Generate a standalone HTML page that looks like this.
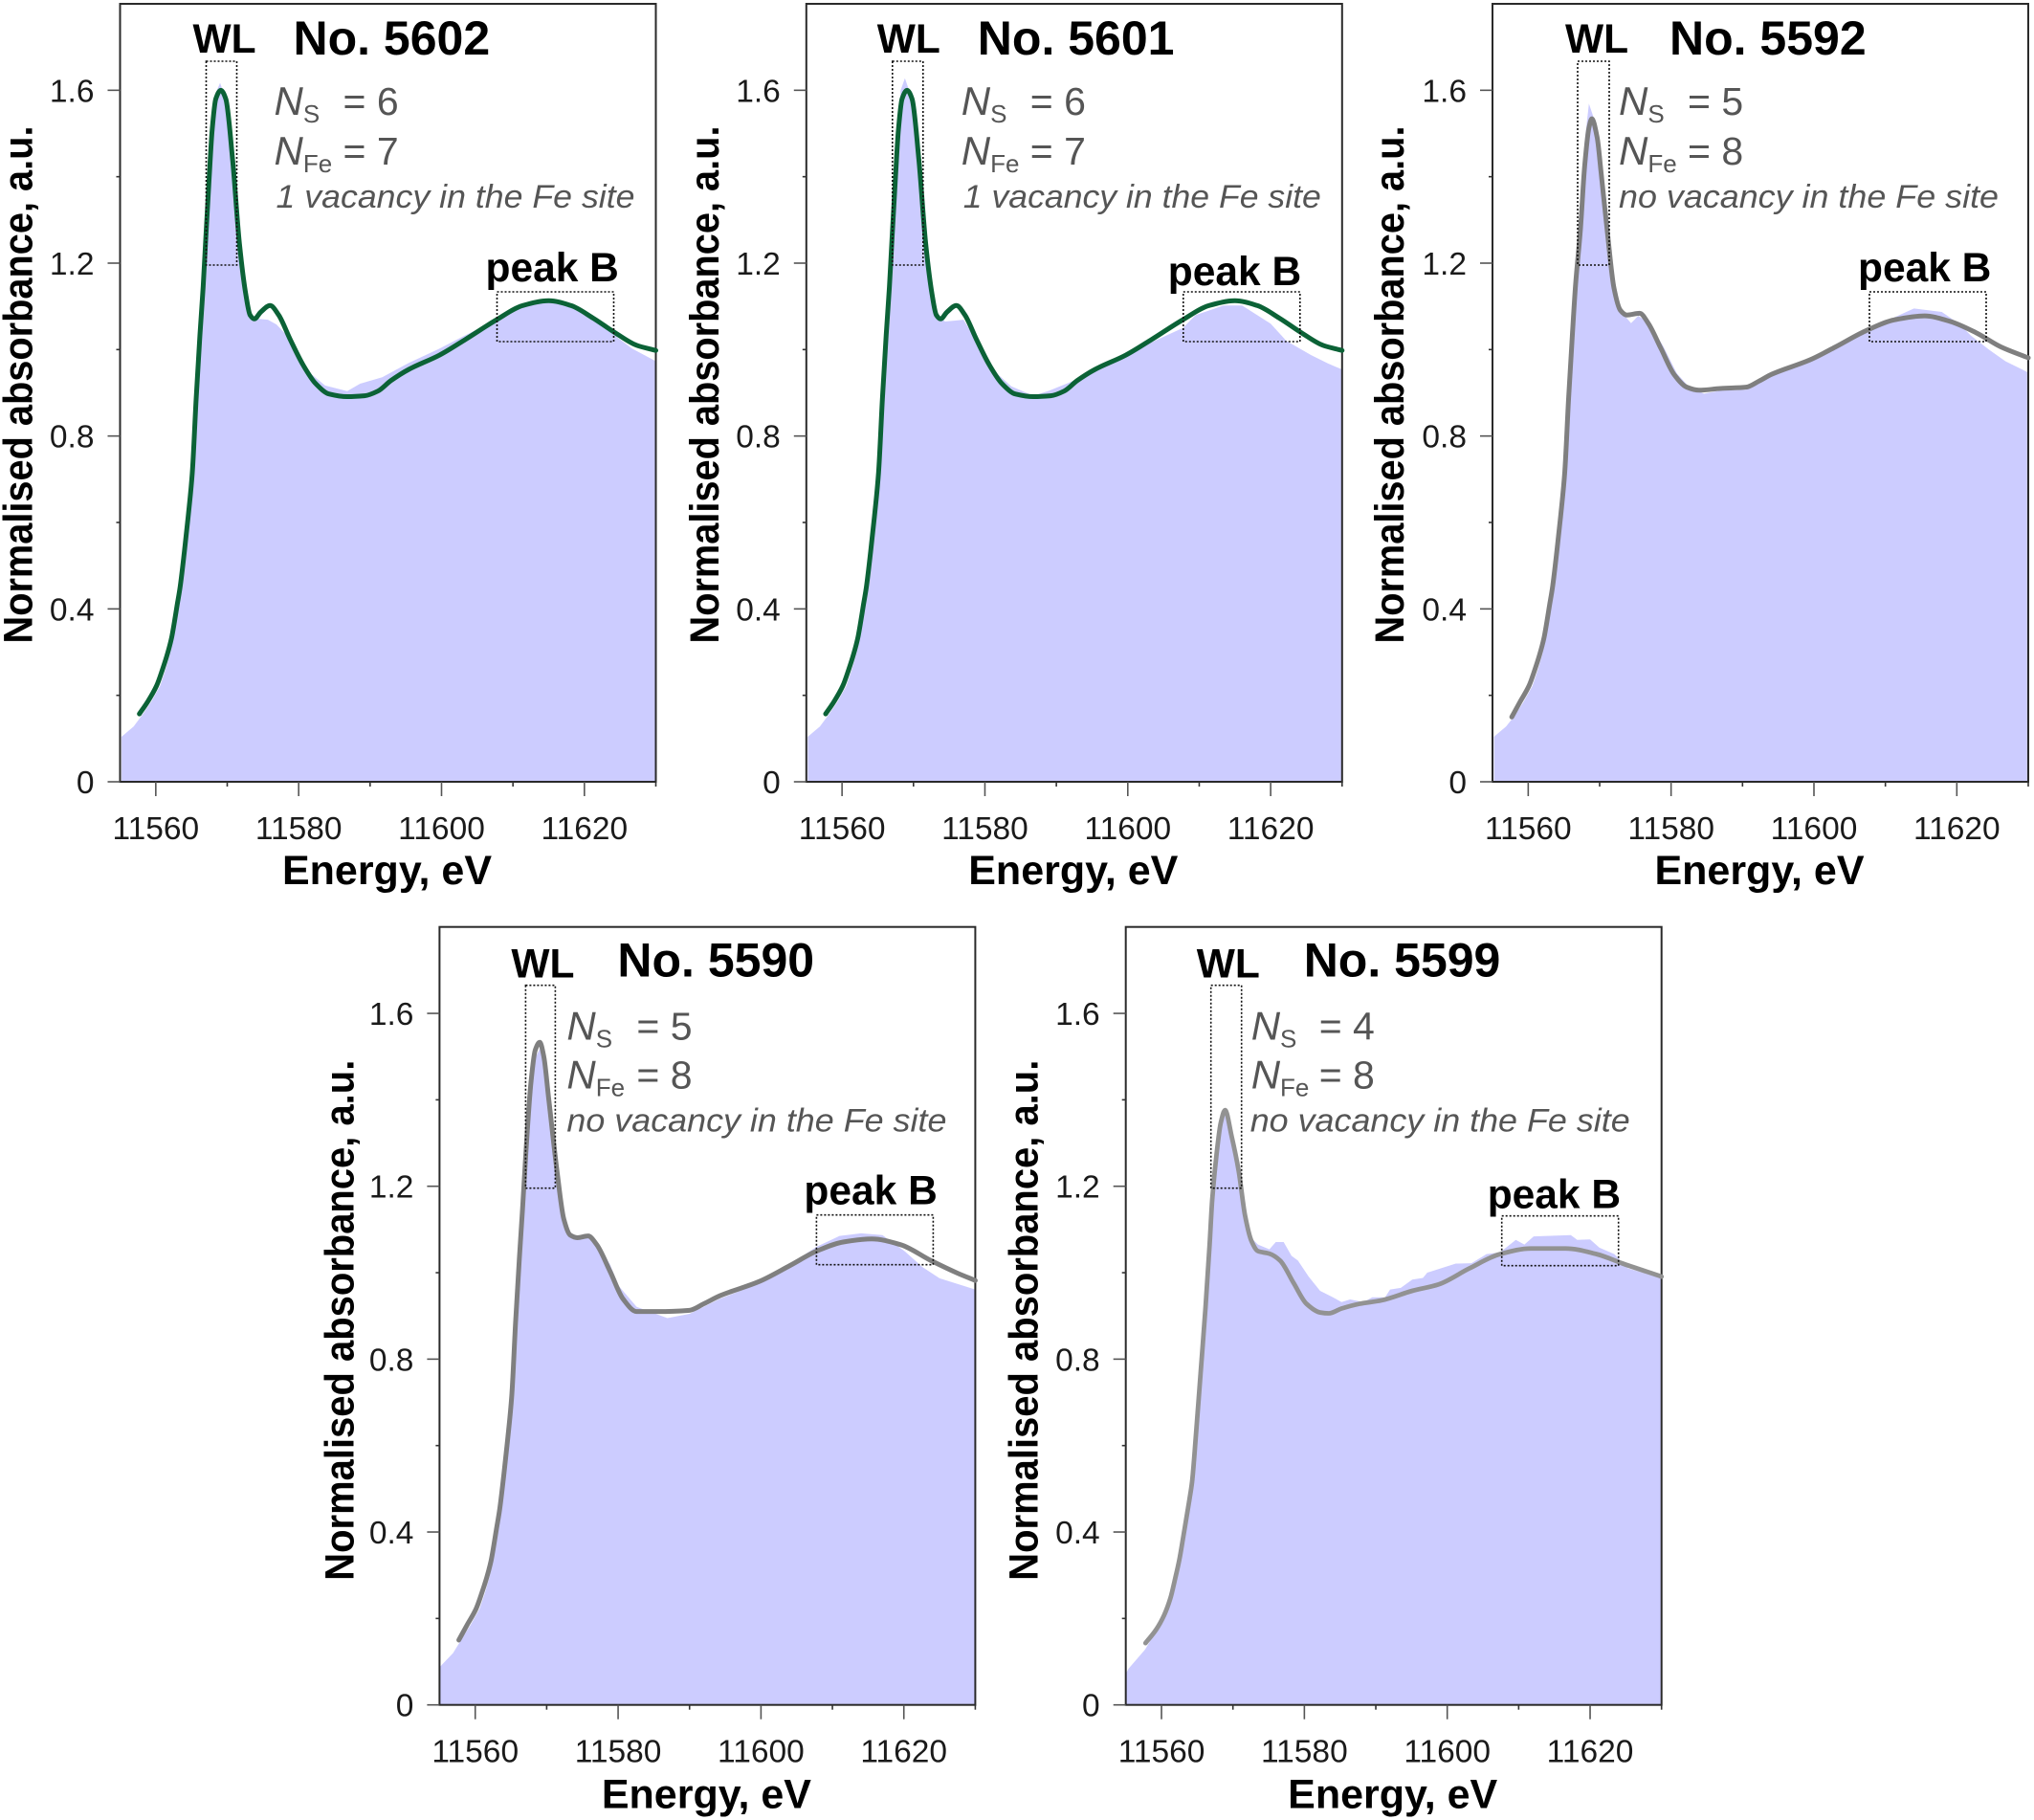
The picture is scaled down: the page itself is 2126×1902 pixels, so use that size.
<!DOCTYPE html>
<html lang="en">
<head>
<meta charset="utf-8">
<title>Normalised absorbance spectra</title>
<style>
html,body{margin:0;padding:0;background:#fff;}
svg{display:block;font-family:"Liberation Sans",Arial,sans-serif;}
.tick{font-size:33.5px;fill:#1a1a1a;}
.axt{font-size:43px;font-weight:bold;fill:#000;}
.ttl{font-size:50px;font-weight:bold;fill:#000;}
.lab{font-size:42.5px;font-weight:bold;fill:#000;}
.par{font-size:41px;fill:#555;}
.sub{font-size:26px;fill:#555;}
.note{font-size:34px;font-style:italic;fill:#555;}
.box{fill:none;stroke:#111;stroke-width:1.6;stroke-dasharray:2 2;}
</style>
</head>
<body>
<svg id="chart" xmlns="http://www.w3.org/2000/svg" width="2126" height="1902" viewBox="0 0 2126 1902">
  <g id="p5602" transform="translate(125.5,4)">
    <g class="plot"></g>
    <text class="lab" x="76" y="51">WL</text>
    <text class="ttl" x="181" y="53">No. 5602</text>
    <text class="par" x="161" y="116"><tspan font-style="italic" font-size="42">N</tspan><tspan class="sub" dy="8">S</tspan></text>
    <text class="par" x="233" y="116">= 6</text>
    <text class="par" x="161" y="168"><tspan font-style="italic" font-size="42">N</tspan><tspan class="sub" dy="8">Fe</tspan></text>
    <text class="par" x="233" y="168">= 7</text>
    <text class="note" x="163" y="213" textLength="375" lengthAdjust="spacingAndGlyphs">1 vacancy in the Fe site</text>
    <text class="lab" x="382" y="290">peak B</text>
    <rect class="box" x="90" y="60" width="32" height="213"/>
    <rect class="box" x="394" y="301" width="122" height="52"/>
    <text class="axt" x="279" y="920" text-anchor="middle">Energy, eV</text>
    <text class="axt" transform="translate(-92,398) rotate(-90)" text-anchor="middle" textLength="541" lengthAdjust="spacingAndGlyphs">Normalised absorbance, a.u.</text>
  </g>
  <g id="p5601" transform="translate(842.8,4)">
    <g class="plot"></g>
    <text class="lab" x="74" y="51">WL</text>
    <text class="ttl" x="179" y="53">No. 5601</text>
    <text class="par" x="162" y="116"><tspan font-style="italic" font-size="42">N</tspan><tspan class="sub" dy="8">S</tspan></text>
    <text class="par" x="234" y="116">= 6</text>
    <text class="par" x="162" y="168"><tspan font-style="italic" font-size="42">N</tspan><tspan class="sub" dy="8">Fe</tspan></text>
    <text class="par" x="234" y="168">= 7</text>
    <text class="note" x="164" y="213" textLength="374" lengthAdjust="spacingAndGlyphs">1 vacancy in the Fe site</text>
    <text class="lab" x="378" y="294">peak B</text>
    <rect class="box" x="90" y="60" width="32" height="213"/>
    <rect class="box" x="394" y="301" width="122" height="52"/>
    <text class="axt" x="279" y="920" text-anchor="middle">Energy, eV</text>
    <text class="axt" transform="translate(-92,398) rotate(-90)" text-anchor="middle" textLength="541" lengthAdjust="spacingAndGlyphs">Normalised absorbance, a.u.</text>
  </g>
  <g id="p5592" transform="translate(1560,4)">
    <g class="plot"></g>
    <text class="lab" x="76" y="51">WL</text>
    <text class="ttl" x="185" y="53">No. 5592</text>
    <text class="par" x="132" y="116"><tspan font-style="italic" font-size="42">N</tspan><tspan class="sub" dy="8">S</tspan></text>
    <text class="par" x="204" y="116">= 5</text>
    <text class="par" x="132" y="168"><tspan font-style="italic" font-size="42">N</tspan><tspan class="sub" dy="8">Fe</tspan></text>
    <text class="par" x="204" y="168">= 8</text>
    <text class="note" x="132" y="213" textLength="397" lengthAdjust="spacingAndGlyphs">no vacancy in the Fe site</text>
    <text class="lab" x="382" y="290">peak B</text>
    <rect class="box" x="89" y="60" width="33" height="213"/>
    <rect class="box" x="394" y="301" width="122" height="52"/>
    <text class="axt" x="279" y="920" text-anchor="middle">Energy, eV</text>
    <text class="axt" transform="translate(-93,398) rotate(-90)" text-anchor="middle" textLength="541" lengthAdjust="spacingAndGlyphs">Normalised absorbance, a.u.</text>
  </g>
  <g id="p5590" transform="translate(459.4,968.7)">
    <g class="plot"></g>
    <text class="lab" x="75" y="53">WL</text>
    <text class="ttl" x="186" y="52">No. 5590</text>
    <text class="par" x="133" y="118"><tspan font-style="italic" font-size="42">N</tspan><tspan class="sub" dy="8">S</tspan></text>
    <text class="par" x="206" y="118">= 5</text>
    <text class="par" x="133" y="169"><tspan font-style="italic" font-size="42">N</tspan><tspan class="sub" dy="8">Fe</tspan></text>
    <text class="par" x="206" y="169">= 8</text>
    <text class="note" x="133" y="214" textLength="397" lengthAdjust="spacingAndGlyphs">no vacancy in the Fe site</text>
    <text class="lab" x="381" y="290">peak B</text>
    <rect class="box" x="90" y="61" width="31" height="212"/>
    <rect class="box" x="394" y="301" width="122" height="52"/>
    <text class="axt" x="279" y="921" text-anchor="middle">Energy, eV</text>
    <text class="axt" transform="translate(-90,411) rotate(-90)" text-anchor="middle" textLength="544" lengthAdjust="spacingAndGlyphs">Normalised absorbance, a.u.</text>
  </g>
  <g id="p5599" transform="translate(1176.7,968.7)">
    <g class="plot"></g>
    <text class="lab" x="74" y="53">WL</text>
    <text class="ttl" x="186" y="52">No. 5599</text>
    <text class="par" x="131" y="118"><tspan font-style="italic" font-size="42">N</tspan><tspan class="sub" dy="8">S</tspan></text>
    <text class="par" x="202" y="118">= 4</text>
    <text class="par" x="131" y="169"><tspan font-style="italic" font-size="42">N</tspan><tspan class="sub" dy="8">Fe</tspan></text>
    <text class="par" x="202" y="169">= 8</text>
    <text class="note" x="130" y="214" textLength="397" lengthAdjust="spacingAndGlyphs">no vacancy in the Fe site</text>
    <text class="lab" x="378" y="294">peak B</text>
    <rect class="box" x="89" y="61" width="32" height="212"/>
    <rect class="box" x="393" y="302" width="122" height="52"/>
    <text class="axt" x="279" y="921" text-anchor="middle">Energy, eV</text>
    <text class="axt" transform="translate(-92,411) rotate(-90)" text-anchor="middle" textLength="544" lengthAdjust="spacingAndGlyphs">Normalised absorbance, a.u.</text>
  </g>
</svg>
<script>
// Axis definition
const xMajorTicks = [11560, 11580, 11600, 11620];
const xMinorTicks = [11570, 11590, 11610, 11630];
const yMajorTicks = [0, 0.4, 0.8, 1.2, 1.6];
const yMinorTicks = [0.2, 0.6, 1.0, 1.4];
const yTickLabels = ['0', '0.4', '0.8', '1.2', '1.6'];
const xDomain = [11555, 11630];
const yDomain = [0, 1.8];

// No. 5602
const line5602E = [11557.7,11558.86,11560.11,11560.92,11561.63,11562.21,11562.61,11562.97,11563.41,11564,11564.53,11565.11,11565.65,11566.18,11566.63,11566.99,11567.45,11567.9,11568.4,11569.1,11569.8,11570.75,11571.7,11572.6,11573.2,11573.8,11574.7,11576,11577.2,11578.8,11580.6,11582.4,11584.3,11586.8,11589.2,11591.1,11592.9,11595.4,11599.7,11603.4,11607.7,11611.4,11615,11618.1,11621.2,11624.3,11627.3,11630];
const line5602V = [0.157,0.185,0.222,0.259,0.296,0.333,0.37,0.407,0.451,0.532,0.613,0.715,0.886,1.034,1.145,1.255,1.39,1.51,1.58,1.6,1.58,1.44,1.247,1.128,1.08,1.071,1.087,1.102,1.08,1.024,0.965,0.921,0.897,0.891,0.893,0.904,0.928,0.954,0.987,1.024,1.069,1.102,1.113,1.102,1.073,1.039,1.01,0.998];
const fill5602E = [11555.2,11556.9,11558.2,11559.35,11560.6,11561.35,11562,11562.5,11562.9,11563.25,11563.6,11564.15,11564.68,11565.25,11565.7,11566.25,11566.7,11567.05,11567.5,11567.9,11568.3,11569,11569.8,11570.75,11571.7,11572.6,11573.5,11574.4,11575.7,11576.9,11578.4,11580,11581.8,11583.7,11586.8,11588.6,11591.7,11595.4,11599.7,11602.7,11607.7,11611.4,11615,11618.1,11621.2,11624.3,11626.7,11630];
const fill5602V = [0.104,0.128,0.157,0.185,0.222,0.259,0.296,0.333,0.37,0.407,0.451,0.532,0.613,0.72,0.886,1.034,1.145,1.255,1.39,1.52,1.59,1.617,1.58,1.44,1.247,1.12,1.08,1.071,1.069,1.058,1.032,0.987,0.943,0.917,0.904,0.921,0.936,0.969,1.002,1.028,1.069,1.102,1.117,1.102,1.073,1.032,1.002,0.973];

// No. 5601
const line5601E = [11557.7,11558.86,11560.11,11560.92,11561.63,11562.21,11562.61,11562.97,11563.41,11564,11564.53,11565.11,11565.65,11566.18,11566.63,11566.99,11567.45,11567.9,11568.4,11569.1,11569.8,11570.75,11571.7,11572.6,11573.2,11573.8,11574.7,11576,11577.2,11578.8,11580.6,11582.4,11584.3,11586.8,11589.2,11591.1,11592.9,11595.4,11599.7,11603.4,11607.7,11611.4,11615,11618.1,11621.2,11624.3,11627.3,11630];
const line5601V = [0.157,0.185,0.222,0.259,0.296,0.333,0.37,0.407,0.451,0.532,0.613,0.715,0.886,1.034,1.145,1.255,1.39,1.51,1.58,1.6,1.58,1.44,1.247,1.128,1.08,1.071,1.087,1.102,1.08,1.024,0.965,0.921,0.897,0.891,0.893,0.904,0.928,0.954,0.987,1.024,1.069,1.102,1.113,1.102,1.073,1.039,1.01,0.998];
const fill5601E = [11555.2,11556.9,11558.2,11559.35,11560.6,11561.35,11562,11562.5,11562.9,11563.25,11563.6,11564.15,11564.68,11565.25,11565.7,11566.25,11566.7,11567.05,11567.5,11567.9,11568.2,11568.8,11569.8,11570.75,11571.7,11572.6,11573.5,11574.4,11575.7,11577,11578.4,11580,11581.8,11583.7,11586.8,11589,11591.7,11595.4,11599.7,11602.7,11607.7,11609.5,11613.4,11616,11620,11622.2,11625.7,11628,11630];
const fill5601V = [0.104,0.128,0.157,0.185,0.222,0.259,0.296,0.333,0.37,0.407,0.451,0.532,0.613,0.72,0.886,1.034,1.145,1.255,1.39,1.53,1.6,1.628,1.58,1.44,1.247,1.12,1.08,1.065,1.067,1.069,1.032,0.987,0.943,0.915,0.893,0.905,0.923,0.95,0.985,1.012,1.05,1.08,1.102,1.102,1.06,1.02,0.987,0.968,0.954];

// No. 5592
const line5592E = [11557.7,11558.86,11560.11,11560.92,11561.63,11562.21,11562.61,11562.97,11563.41,11564,11564.53,11565.11,11565.65,11566.18,11566.63,11567.3,11567.9,11568.5,11568.9,11569.65,11570.2,11571.1,11572,11572.9,11573.8,11575.6,11576.8,11578.6,11580.4,11582.2,11583.9,11586.9,11590.5,11592.3,11594.1,11599.4,11603,11607.2,11611.3,11615.5,11619.1,11622.7,11626.2,11630];
const line5592V = [0.15,0.185,0.222,0.259,0.296,0.333,0.37,0.407,0.451,0.532,0.613,0.715,0.886,1.034,1.15,1.276,1.424,1.513,1.534,1.491,1.41,1.269,1.143,1.091,1.08,1.084,1.061,1.002,0.943,0.913,0.906,0.91,0.913,0.927,0.943,0.976,1.006,1.043,1.069,1.078,1.065,1.039,1.006,0.981];
const fill5592E = [11555.2,11556.9,11558.2,11559.35,11560.6,11561.35,11562,11562.5,11562.9,11563.25,11563.6,11564.15,11564.68,11565.25,11565.7,11566.25,11566.7,11567.3,11567.9,11568.5,11569.3,11570.2,11571.1,11572,11572.9,11574.4,11575.4,11576.9,11578.9,11580.8,11582.6,11584.6,11586.9,11590.5,11594.1,11599.4,11603,11607.2,11611.3,11614,11617.9,11620.3,11622,11624.5,11626.8,11630];
const fill5592V = [0.104,0.128,0.155,0.185,0.222,0.259,0.296,0.333,0.37,0.407,0.451,0.532,0.613,0.72,0.886,1.034,1.15,1.33,1.48,1.569,1.53,1.43,1.29,1.15,1.09,1.061,1.078,1.062,1.008,0.945,0.912,0.898,0.905,0.907,0.945,0.98,1.008,1.045,1.075,1.095,1.087,1.06,1.032,1.0,0.973,0.947];

// No. 5590
const line5590E = [11557.7,11558.86,11560.11,11560.92,11561.63,11562.21,11562.61,11562.97,11563.41,11564,11564.53,11565.11,11565.65,11566.18,11566.63,11567.1,11567.8,11568.4,11569.03,11569.6,11570.26,11571.5,11572.4,11573.3,11574.3,11575.8,11577,11578.9,11580.7,11582.6,11585.6,11590,11592,11594.3,11599.8,11604.1,11607.8,11611.5,11615.5,11619.5,11623.8,11627.5,11630];
const line5590V = [0.15,0.185,0.222,0.259,0.296,0.333,0.37,0.407,0.451,0.532,0.613,0.715,0.886,1.034,1.15,1.28,1.44,1.515,1.533,1.5,1.406,1.228,1.124,1.087,1.081,1.085,1.065,1.002,0.939,0.91,0.91,0.913,0.928,0.947,0.98,1.017,1.05,1.071,1.078,1.065,1.028,0.999,0.982];
const fill5590E = [11555,11556.9,11558.2,11559.35,11560.6,11561.35,11562,11562.5,11562.9,11563.25,11563.6,11564.15,11564.68,11565.25,11565.7,11566.25,11566.7,11567.2,11567.9,11568.5,11569.1,11570.26,11571.5,11572.4,11573.3,11574.3,11575.8,11577,11578.9,11580.1,11582.6,11586.9,11590,11594.3,11599.8,11604.1,11607.8,11611,11614,11617,11620.1,11622.6,11625,11630];
const fill5590V = [0.087,0.12,0.155,0.185,0.222,0.259,0.296,0.333,0.37,0.407,0.451,0.532,0.613,0.72,0.886,1.034,1.15,1.3,1.44,1.5,1.52,1.406,1.228,1.124,1.087,1.081,1.085,1.072,1.018,0.969,0.921,0.895,0.905,0.94,0.975,1.02,1.06,1.085,1.091,1.087,1.05,1.013,0.987,0.961];

// No. 5599
const line5599E = [11557.76,11559.24,11560.35,11561.25,11561.91,11562.5,11563.03,11563.48,11563.92,11564.28,11564.82,11565.49,11566.16,11566.74,11567.1,11567.7,11568.3,11568.9,11569.8,11570.8,11571.7,11572.6,11573.5,11575.1,11576.6,11578.5,11580.3,11582.2,11583.4,11585.2,11587.7,11590.8,11595.1,11598.8,11603.1,11607.4,11611.7,11616.6,11620.9,11624.6,11630];
const line5599V = [0.143,0.174,0.207,0.247,0.292,0.336,0.387,0.432,0.476,0.516,0.624,0.771,0.919,1.066,1.169,1.273,1.347,1.376,1.317,1.236,1.132,1.073,1.05,1.044,1.028,0.976,0.928,0.908,0.906,0.917,0.928,0.936,0.958,0.973,1.01,1.043,1.056,1.056,1.043,1.021,0.991];
const fill5599E = [11555,11555.4,11557.7,11559.3,11560.4,11561.25,11561.85,11562.4,11562.95,11563.4,11563.85,11564.2,11564.7,11565.35,11566,11566.6,11567.1,11567.7,11568.3,11568.8,11569.8,11570.8,11571.7,11572.6,11573.5,11575.1,11576,11577.1,11578.2,11579.1,11580.6,11582.2,11584,11585.2,11586.4,11588.3,11589.5,11591.3,11592,11593.5,11595.1,11596.6,11597.2,11601.2,11603.4,11605.5,11607.4,11609.6,11610.8,11612.1,11617.3,11618.2,11620,11621.3,11623.4,11625.3,11630];
const fill5599V = [0.072,0.084,0.128,0.172,0.21,0.255,0.3,0.345,0.395,0.44,0.485,0.525,0.63,0.78,0.925,1.07,1.2,1.3,1.35,1.37,1.317,1.236,1.132,1.08,1.065,1.054,1.071,1.071,1.039,1.028,0.991,0.958,0.943,0.932,0.938,0.932,0.943,0.943,0.961,0.965,0.984,0.988,1.0,1.021,1.022,1.043,1.047,1.076,1.065,1.084,1.087,1.076,1.077,1.058,1.043,1.01,0.987];

const NS = 'http://www.w3.org/2000/svg';
const PW = 560, PH = 813;

function scaleX(e){ return (e - xDomain[0]) / (xDomain[1] - xDomain[0]) * PW; }
function scaleY(v){ return PH - (v - yDomain[0]) / (yDomain[1] - yDomain[0]) * PH; }

function make(tag, parent, attrs){
  const n = document.createElementNS(NS, tag);
  for (const k in attrs) n.setAttribute(k, attrs[k]);
  parent.appendChild(n);
  return n;
}

function monotonePath(px, py){
  const n = px.length, d = [], m = [];
  for (let i = 0; i < n - 1; i++) d.push((py[i + 1] - py[i]) / (px[i + 1] - px[i]));
  m.push(d[0]);
  for (let i = 1; i < n - 1; i++) m.push(d[i - 1] * d[i] <= 0 ? 0 : 2 * d[i - 1] * d[i] / (d[i - 1] + d[i]));
  m.push(d[n - 2]);
  let s = 'M' + px[0].toFixed(2) + ' ' + py[0].toFixed(2);
  for (let i = 0; i < n - 1; i++) {
    const h = (px[i + 1] - px[i]) / 3;
    s += 'C' + (px[i] + h).toFixed(2) + ' ' + (py[i] + m[i] * h).toFixed(2) + ' ' +
         (px[i + 1] - h).toFixed(2) + ' ' + (py[i + 1] - m[i + 1] * h).toFixed(2) + ' ' +
         px[i + 1].toFixed(2) + ' ' + py[i + 1].toFixed(2);
  }
  return s;
}

function drawPanel(id, fillE, fillV, lineE, lineV, color, width){
  const plot = document.querySelector('#' + id + ' .plot');

  let area = 'M' + scaleX(fillE[0]).toFixed(2) + ' ' + PH;
  fillE.forEach(function(e, i){ area += 'L' + scaleX(e).toFixed(2) + ' ' + scaleY(fillV[i]).toFixed(2); });
  area += 'L' + scaleX(fillE[fillE.length - 1]).toFixed(2) + ' ' + PH + 'Z';
  const fillMark = make('path', plot, {d: area, fill: '#ccccff', stroke: 'none'});
  
  

  const frame = make('rect', plot, {x: 0, y: 0, width: PW, height: PH, fill: 'none', stroke: '#2a2a2a', 'stroke-width': 2});
  
  

  xMajorTicks.forEach(function(t){
    const x = scaleX(t);
    const tick = make('line', plot, {x1: x, x2: x, y1: PH, y2: PH + 15, stroke: '#555', 'stroke-width': 1.6});
    
    
    const label = make('text', plot, {x: x, y: PH + 60, 'text-anchor': 'middle', class: 'tick'});
    label.textContent = String(t);
    
    
  });
  xMinorTicks.forEach(function(t){
    const x = scaleX(t);
    const tick = make('line', plot, {x1: x, x2: x, y1: PH, y2: PH + 5, stroke: '#333', 'stroke-width': 1.6});
    
    
  });
  yMajorTicks.forEach(function(t, i){
    const y = scaleY(t);
    const tick = make('line', plot, {x1: -13, x2: 0, y1: y, y2: y, stroke: '#555', 'stroke-width': 1.6});
    
    
    const label = make('text', plot, {x: -27, y: y + 12, 'text-anchor': 'end', class: 'tick'});
    label.textContent = yTickLabels[i];
    
    
  });
  yMinorTicks.forEach(function(t){
    const y = scaleY(t);
    const tick = make('line', plot, {x1: -4, x2: 0, y1: y, y2: y, stroke: '#333', 'stroke-width': 1.6});
    
    
  });

  const path = monotonePath(lineE.map(scaleX), lineV.map(scaleY));
  const curve = make('path', plot, {d: path, fill: 'none', stroke: color, 'stroke-width': width, 'stroke-linecap': 'round', 'stroke-linejoin': 'round'});
  
  
}

drawPanel('p5602', fill5602E, fill5602V, line5602E, line5602V, '#0b6236', 5);
drawPanel('p5601', fill5601E, fill5601V, line5601E, line5601V, '#0b6236', 5);
drawPanel('p5592', fill5592E, fill5592V, line5592E, line5592V, '#7f7f7f', 5);
drawPanel('p5590', fill5590E, fill5590V, line5590E, line5590V, '#7f7f7f', 5);
drawPanel('p5599', fill5599E, fill5599V, line5599E, line5599V, '#929292', 4.8);
</script>
</body>
</html>
